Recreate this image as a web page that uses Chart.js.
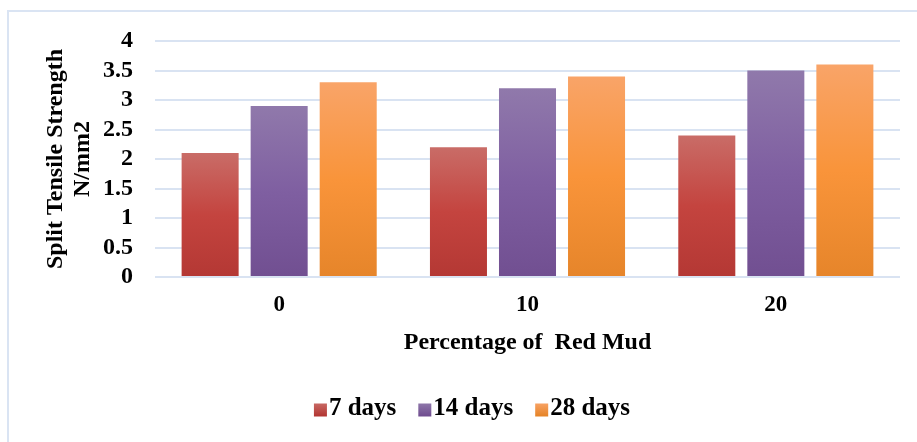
<!DOCTYPE html>
<html>
<head>
<meta charset="utf-8">
<script src="https://cdn.jsdelivr.net/npm/chart.js@4"></script>
<style>
  html, body { margin: 0; padding: 0; background: #fff; overflow: hidden; }
  #wrap { position: relative; width: 917px; height: 442px; }
  #frame { position: absolute; left: 7px; top: 10px; width: 1000px; height: 1000px; border-left: 2px solid #dae4f3; border-top: 2px solid #dae4f3; box-sizing: border-box; }
  canvas { position: absolute; left: 0; top: 0; }
</style>
</head>
<body>
<div id="wrap">
  <div id="frame"></div>
  <canvas id="c" width="917" height="442"></canvas>
</div>
<script>
const categories = ['0', '10', '20'];
const seriesNames = ['7 days', '14 days', '28 days'];
const days7 = [2.1, 2.2, 2.4];
const days14 = [2.9, 3.2, 3.5];
const days28 = [3.3, 3.4, 3.6];
const yTicks = [0, 0.5, 1, 1.5, 2, 2.5, 3, 3.5, 4];

const gradStops = [
  ['#c96c67', '#c4443f', '#b43834'],
  ['#9079ab', '#7f5fa1', '#714f91'],
  ['#f9a468', '#f9943a', '#e6852a']
];
const legendColors = ['#c24c48', '#7d5e9f', '#f7953f'];

function barGradient(si) {
  return function(ctx) {
    const chart = ctx.chart;
    if (!chart.chartArea || ctx.type !== 'data') return legendColors[si];
    const v = ctx.raw;
    const y = chart.scales.y;
    const top = y.getPixelForValue(v);
    const bot = y.getPixelForValue(0);
    const g = chart.ctx.createLinearGradient(0, top, 0, bot);
    g.addColorStop(0, gradStops[si][0]);
    g.addColorStop(0.5, gradStops[si][1]);
    g.addColorStop(1, gradStops[si][2]);
    return g;
  };
}

const serif = "'Liberation Serif', 'Times New Roman', serif";
const dataArrays = [days7, days14, days28];

// Compact legend (small gap between swatch and text, as in the reference)
const compactLegend = {
  id: 'compactLegend',
  afterDraw(chart) {
    const ctx = chart.ctx;
    const fontSize = 25;
    const box = 13, gapBoxText = 2, gapItems = 22;
    const centerX = 472, centerY = 409;
    ctx.save();
    ctx.font = 'bold ' + fontSize + 'px ' + serif;
    ctx.textBaseline = 'middle';
    ctx.textAlign = 'left';
    const items = chart.data.datasets.map((d, i) => ({ text: d.label, w: ctx.measureText(d.label).width }));
    let total = 0;
    items.forEach((it, i) => { total += box + gapBoxText + it.w + (i < items.length - 1 ? gapItems : 0); });
    let x = centerX - total / 2;
    items.forEach((it, si) => {
      const g = ctx.createLinearGradient(0, centerY - box / 2, 0, centerY + box / 2);
      g.addColorStop(0, gradStops[si][0]);
      g.addColorStop(1, gradStops[si][2]);
      ctx.fillStyle = g;
      ctx.fillRect(x, centerY - box / 2 + 1, box, box);
      x += box + gapBoxText;
      ctx.fillStyle = '#000';
      ctx.fillText(it.text, x, centerY);
      x += it.w + gapItems;
    });
    ctx.restore();
  }
};

new Chart(document.getElementById('c'), {
  type: 'bar',
  data: {
    labels: categories,
    datasets: seriesNames.map((n, i) => ({
      label: n,
      data: dataArrays[i],
      backgroundColor: barGradient(i),
      borderWidth: 0,
      categoryPercentage: 0.834,
      barPercentage: 0.826
    }))
  },
  options: {
    responsive: false,
    animation: false,
    devicePixelRatio: 1,
    layout: { padding: { left: 42, right: 17, top: 41, bottom: 85 } },
    plugins: {
      tooltip: { enabled: false },
      legend: { display: false }
    },
    scales: {
      x: {
        afterFit: (axis) => { axis.height = 80; },
        grid: { display: false, drawTicks: false },
        border: { display: false },
        ticks: { font: { family: serif, size: 23, weight: 'bold' }, color: '#000', padding: 14 },
        title: {
          display: true,
          text: 'Percentage of  Red Mud',
          font: { family: serif, size: 24, weight: 'bold' },
          color: '#000',
          padding: { top: 8, bottom: 0 }
        }
      },
      y: {
        min: 0,
        max: 4,
        afterBuildTicks: (axis) => { axis.ticks = yTicks.map(v => ({ value: v })); },
        afterFit: (axis) => { axis.width = 113; },
        grid: { color: '#d9e3f2', lineWidth: 2, drawTicks: false },
        border: { display: false },
        ticks: {
          autoSkip: false,
          font: { family: serif, size: 24, weight: 'bold' },
          color: '#000',
          padding: 22,
          callback: (v) => String(v)
        },
        title: {
          display: true,
          text: ['Split Tensile Strength', 'N/mm2'],
          font: { family: serif, size: 24, weight: 'bold', lineHeight: 1.125 },
          color: '#000',
          padding: { top: 0, bottom: 0 }
        }
      }
    }
  },
  plugins: [compactLegend]
});
</script>
</body>
</html>
